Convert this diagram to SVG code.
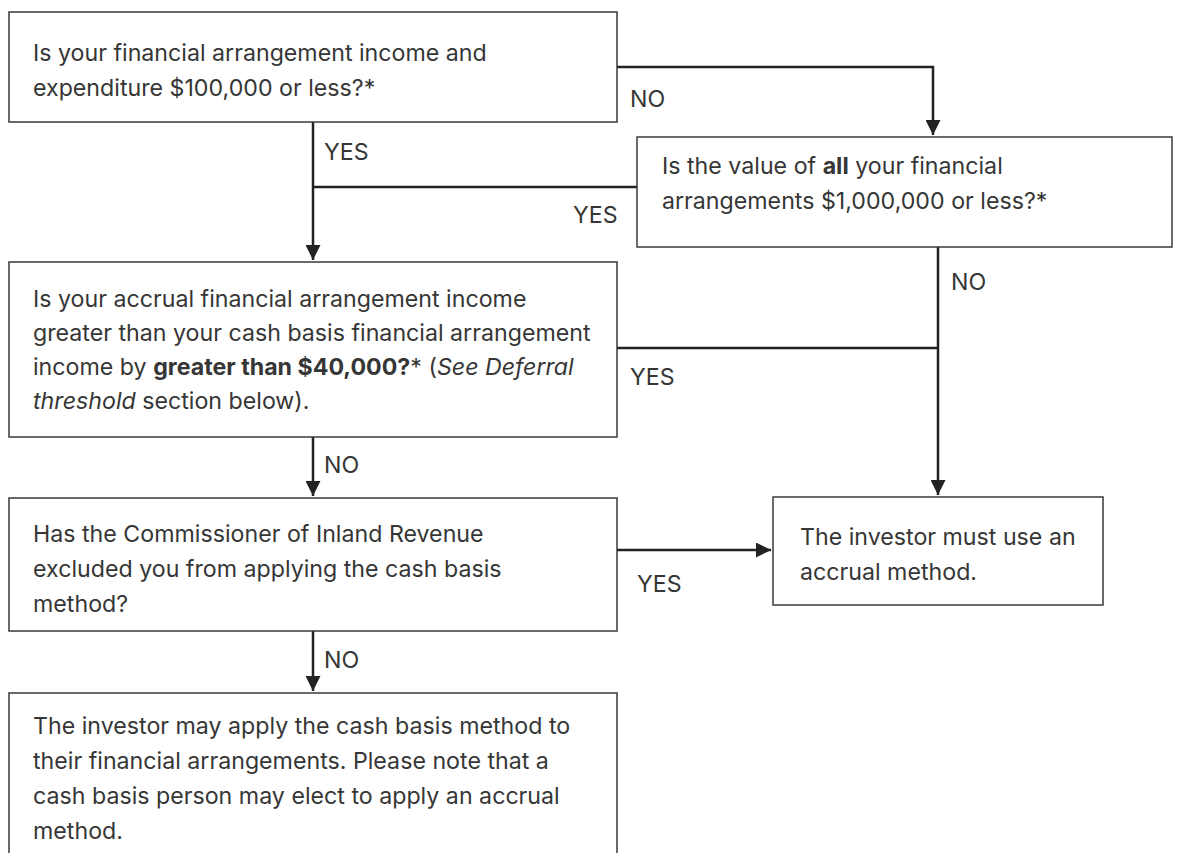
<svg xmlns="http://www.w3.org/2000/svg" width="1181" height="853" viewBox="0 0 1181 853">
<style>
.box{fill:#fff;stroke:#3a3a3a;stroke-width:1.5}
.t{font-family:Inter,"Liberation Sans",sans-serif;font-size:23.2px;fill:#363636}
.b{font-weight:700}
.i{font-style:italic}
.c{fill:none;stroke:#222;stroke-width:2.5}
</style>
<defs>
<marker id="ah" viewBox="0 0 10 10" refX="10" refY="5" markerWidth="6" markerHeight="6" markerUnits="strokeWidth" orient="auto">
<path d="M0,0 L10,5 L0,10 z" fill="#222"/>
</marker>
</defs>
<rect width="1181" height="853" fill="#fff"/>
<g id="connectors">
<path class="c" d="M617,67 H933 V135" marker-end="url(#ah)"/>
<path class="c" d="M313,122 V260" marker-end="url(#ah)"/>
<path class="c" d="M313,187 H637"/>
<path class="c" d="M938,247 V495" marker-end="url(#ah)"/>
<path class="c" d="M617,348 H938"/>
<path class="c" d="M617,550 H771" marker-end="url(#ah)"/>
<path class="c" d="M313,437 V496" marker-end="url(#ah)"/>
<path class="c" d="M313,631 V691" marker-end="url(#ah)"/>
<text class="t" x="630" y="107">NO</text>
<text class="t" x="324" y="160">YES</text>
<text class="t" x="573" y="223">YES</text>
<text class="t" x="951" y="290">NO</text>
<text class="t" x="630" y="385">YES</text>
<text class="t" x="324" y="473">NO</text>
<text class="t" x="637" y="592">YES</text>
<text class="t" x="324" y="668">NO</text>
</g>
<g id="q1">
<rect class="box" x="9" y="12" width="608" height="110"/>
<text class="t" x="33" y="61">Is your financial arrangement income and</text>
<text class="t" x="33" y="96">expenditure $100,000 or less?*</text>
</g>
<g id="q2">
<rect class="box" x="637" y="137" width="535" height="110"/>
<text class="t" x="662" y="174">Is the value of <tspan class="b">all</tspan> your financial</text>
<text class="t" x="662" y="209">arrangements $1,000,000 or less?*</text>
</g>
<g id="q3">
<rect class="box" x="9" y="262" width="608" height="175"/>
<text class="t" x="33" y="307">Is your accrual financial arrangement income</text>
<text class="t" x="33" y="341">greater than your cash basis financial arrangement</text>
<text class="t" x="33" y="375">income by <tspan class="b">greater than $40,000?</tspan>* (<tspan class="i">See Deferral</tspan></text>
<text class="t" x="33" y="409"><tspan class="i">threshold</tspan> section below).</text>
</g>
<g id="q4">
<rect class="box" x="9" y="498" width="608" height="133"/>
<text class="t" x="33" y="542">Has the Commissioner of Inland Revenue</text>
<text class="t" x="33" y="577">excluded you from applying the cash basis</text>
<text class="t" x="33" y="612">method?</text>
</g>
<g id="accrual">
<rect class="box" x="773" y="497" width="330" height="108"/>
<text class="t" x="800" y="545">The investor must use an</text>
<text class="t" x="800" y="580">accrual method.</text>
</g>
<g id="cash">
<rect class="box" x="9" y="693" width="608" height="180"/>
<text class="t" x="33" y="734">The investor may apply the cash basis method to</text>
<text class="t" x="33" y="769">their financial arrangements. Please note that a</text>
<text class="t" x="33" y="804">cash basis person may elect to apply an accrual</text>
<text class="t" x="33" y="839">method.</text>
</g>
</svg>
